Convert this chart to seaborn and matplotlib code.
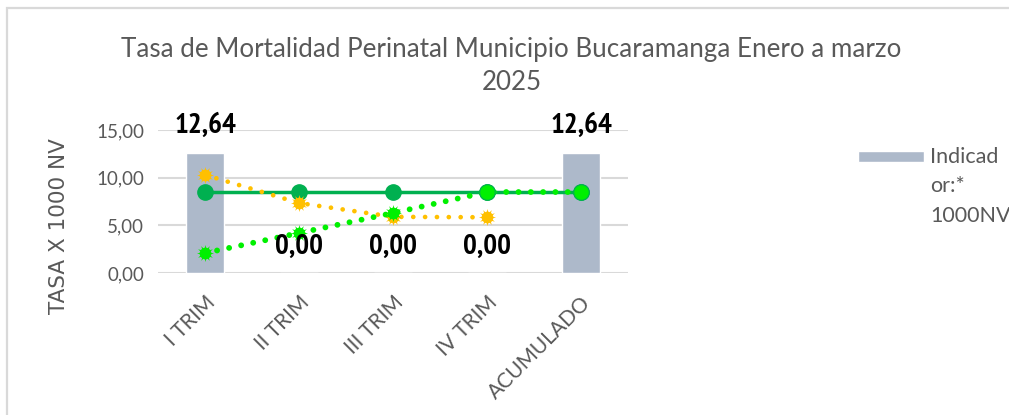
import matplotlib
matplotlib.use("Agg")
import matplotlib.pyplot as plt
import seaborn as sns
import pandas as pd
from matplotlib.patches import Rectangle
from matplotlib.container import BarContainer
from matplotlib.legend_handler import HandlerPatch, update_from_first_child

categories = ["I TRIM", "II TRIM", "III TRIM", "IV TRIM", "ACUMULADO"]
indicador = [12.64, 0.00, 0.00, 0.00, 12.64]
meta = [8.5, 8.5, 8.5, 8.5, 8.5]
linea_amarilla = [10.3, 7.35, 5.9, 5.85]
linea_verde = [2.1, 4.2, 6.3, 8.5, 8.5]
bar_labels = ["12,64", "0,00", "0,00", "0,00", "12,64"]
yticks = [0, 5, 10, 15]
ytick_labels = ["0,00", "5,00", "10,00", "15,00"]

sns.set_theme(style="white")
plt.rcParams['font.family'] = ['Lato', 'DejaVu Sans']

fig = plt.figure(figsize=(10.09, 4.15), dpi=100)
ax = fig.add_axes([0.1566, 0.342, 0.4658, 0.3446])

df = pd.DataFrame({"cat": categories, "val": indicador})
sns.barplot(data=df, x="cat", y="val", color="#ADB9CA", saturation=1,
            width=0.4, ax=ax, label="Indicad\nor:*\n1000NV", zorder=2)

xs = list(range(len(categories)))
ax.plot(xs, meta, color="#00B050", lw=2.5, marker="o", ms=11, zorder=3)

ax.plot(xs[:len(linea_amarilla)], linea_amarilla, color="#FFC000", lw=3.4,
        linestyle=(0, (0.01, 2.5)), dash_capstyle="round", zorder=4)
ax.scatter(xs[:len(linea_amarilla)], linea_amarilla, marker="o", s=70,
           color="#FFC000", zorder=5, linewidths=0)
ax.scatter(xs[:len(linea_amarilla)], linea_amarilla, marker=(12, 1, 0), s=150,
           color="#FFC000", zorder=5, linewidths=0)

ax.plot(xs, linea_verde, color="#00F000", lw=4.2,
        linestyle=(0, (0.01, 2.1)), dash_capstyle="round", zorder=4)
ax.scatter(xs[:3], linea_verde[:3], marker="o", s=70,
           color="#00F000", zorder=5, linewidths=0)
ax.scatter(xs[:3], linea_verde[:3], marker=(12, 1, 0), s=150,
           color="#00F000", zorder=5, linewidths=0)
ax.scatter(xs[3:], linea_verde[3:], marker="o", s=125,
           color="#00F000", edgecolor="#00B050", linewidths=0.8, zorder=6)

for x, v, lab in zip(xs, indicador, bar_labels):
    ax.annotate(lab, (x, v), xytext=(0, 19), textcoords="offset points",
                ha="center", va="center", fontsize=21, fontweight="bold",
                family=["PT Sans Narrow", "Fira Sans Condensed", "DejaVu Sans"],
                color="black", annotation_clip=False, zorder=7)

ax.set_xlim(-0.5, 4.5)
ax.set_ylim(0, 15)
ax.set_yticks(yticks)
ax.set_yticklabels(ytick_labels, fontsize=13.5, color="#595959")
ax.set_xticks(xs)
ax.set_xticklabels(categories, rotation=45, ha="right", rotation_mode="anchor",
                   fontsize=15, color="#595959")
ax.tick_params(axis="y", length=0, pad=10)
ax.tick_params(axis="x", length=0, pad=14)
ax.grid(axis="y", color="#D9D9D9", lw=1.5, zorder=0)
ax.set_axisbelow(True)
for s in ax.spines.values():
    s.set_visible(False)
ax.set_xlabel("")
ax.set_ylabel("TASA X 1000 NV", fontsize=15.5, color="#595959",
              family="DejaVu Sans")
ax.yaxis.set_label_coords(-0.19, 0.33)

fig.text(0.507, 0.842, "Tasa de Mortalidad Perinatal Municipio Bucaramanga Enero a marzo\n2025",
         ha="center", va="center", fontsize=18.7, color="#595959", linespacing=1.4)


def top_patch(legend, orig_handle, xdescent, ydescent, width, height, fontsize):
    return Rectangle((-xdescent, -ydescent + 21.6), width, height)


leg = ax.legend(loc="upper left", bbox_to_anchor=(858 / 1009, 1 - 147 / 415),
                bbox_transform=fig.transFigure, frameon=False, borderpad=0,
                borderaxespad=0, fontsize=15.5, handlelength=3.05, handleheight=0.45,
                handletextpad=0.3, labelcolor="#595959",
                handler_map={BarContainer: HandlerPatch(patch_func=top_patch,
                                                        update_func=update_from_first_child)})
for t in leg.get_texts():
    t.set_linespacing(1.58)

fig.patches.append(Rectangle((0.0065, -0.05), 1.2, 1.031, transform=fig.transFigure,
                             fill=False, edgecolor="#D9D9D9", lw=1.6))

fig.savefig("out.png", dpi=100)
